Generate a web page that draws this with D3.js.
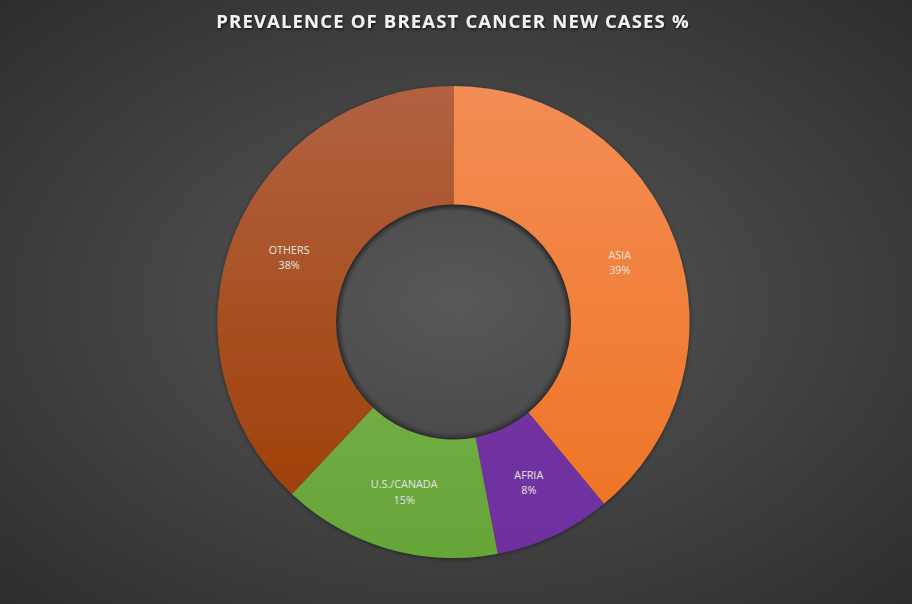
<!DOCTYPE html>
<meta charset="utf-8">
<style>
body { margin: 0; background: #404040; }
svg { display: block; }
.title {
  font-family: "Open Sans", sans-serif;
  font-weight: 700;
  font-size: 18.5px;
  letter-spacing: 1.15px;
  fill: #f2f2f2;
}
.lbl {
  font-family: "Open Sans", sans-serif;
  font-size: 10.8px;
  fill: #e3e3e3;
}
</style>
<svg width="912" height="604"></svg>
<script src="https://cdn.jsdelivr.net/npm/d3@7"></script>
<script>

// data
var regions = ["ASIA", "AFRIA", "U.S./CANADA", "OTHERS"];
var shares = [39, 8, 15, 38];
var topColours = ["#f38d55", "#7a3aaa", "#86bd5c", "#b16242"];
var bottomColours = ["#ee7220", "#6f2f9f", "#66a538", "#9d3c00"];

var svg = d3.select("svg"),
    width = +svg.attr("width"),
    height = +svg.attr("height");

var cx = 453.5, cy = 322,
    outerR = 236, innerR = 117.5;

var defs = svg.append("defs");

// background: lighter in the middle, darker at the corners
var bg = defs.append("radialGradient").attr("id", "bg")
    .attr("cx", "50%").attr("cy", "50%").attr("r", "70%");
bg.append("stop").attr("offset", "0%").attr("stop-color", "#585858");
bg.append("stop").attr("offset", "100%").attr("stop-color", "#2e2e2e");

svg.append("rect")
    .attr("width", width).attr("height", height)
    .attr("fill", "url(#bg)");

// one vertical gradient per slice, spanning the whole ring (group coords)
regions.forEach(function(r, i) {
  var lg = defs.append("linearGradient").attr("id", "grad" + i)
      .attr("gradientUnits", "userSpaceOnUse")
      .attr("x1", 0).attr("y1", -outerR)
      .attr("x2", 0).attr("y2", outerR);
  lg.append("stop").attr("offset", "0%").attr("stop-color", topColours[i]);
  lg.append("stop").attr("offset", "100%").attr("stop-color", bottomColours[i]);
});

var shadow = defs.append("filter").attr("id", "shadow")
    .attr("x", "-10%").attr("y", "-10%").attr("width", "120%").attr("height", "120%");
shadow.append("feDropShadow")
    .attr("dx", 0).attr("dy", 1).attr("stdDeviation", 2)
    .attr("flood-color", "#000").attr("flood-opacity", 0.45);

var titleShadow = defs.append("filter").attr("id", "tshadow");
titleShadow.append("feDropShadow")
    .attr("dx", 1).attr("dy", 1.5).attr("stdDeviation", 1)
    .attr("flood-color", "#000").attr("flood-opacity", 0.6);

svg.append("text")
    .attr("class", "title")
    .attr("x", 453)
    .attr("y", 28)
    .attr("text-anchor", "middle")
    .attr("filter", "url(#tshadow)")
    .text("PREVALENCE OF BREAST CANCER NEW CASES %");

var pie = d3.pie().sort(null).value(function(d) { return d; });
var arcs = pie(shares);

var arc = d3.arc().innerRadius(innerR).outerRadius(outerR);

var g = svg.append("g").attr("transform", "translate(" + cx + "," + cy + ")");

g.append("g")
    .attr("filter", "url(#shadow)")
    .selectAll("path")
    .data(arcs)
    .enter().append("path")
    .attr("d", arc)
    .attr("fill", function(d, i) { return "url(#grad" + i + ")"; });

// inner shadow on the hole
var hole = defs.append("radialGradient").attr("id", "hole");
hole.append("stop").attr("offset", "94%").attr("stop-color", "#000").attr("stop-opacity", 0);
hole.append("stop").attr("offset", "100%").attr("stop-color", "#000").attr("stop-opacity", 0.35);
g.append("circle").attr("r", innerR).attr("fill", "url(#hole)");

var labels = g.append("g").selectAll("text")
    .data(arcs)
    .enter().append("text")
    .attr("class", "lbl")
    .attr("text-anchor", "middle")
    .attr("transform", function(d) { return "translate(" + arc.centroid(d) + ")"; });

labels.append("tspan")
    .attr("x", 0).attr("dy", "-0.3em")
    .text(function(d, i) { return regions[i]; });
labels.append("tspan")
    .attr("x", 0).attr("dy", "1.4em")
    .text(function(d) { return d.data + "%"; });

</script>
